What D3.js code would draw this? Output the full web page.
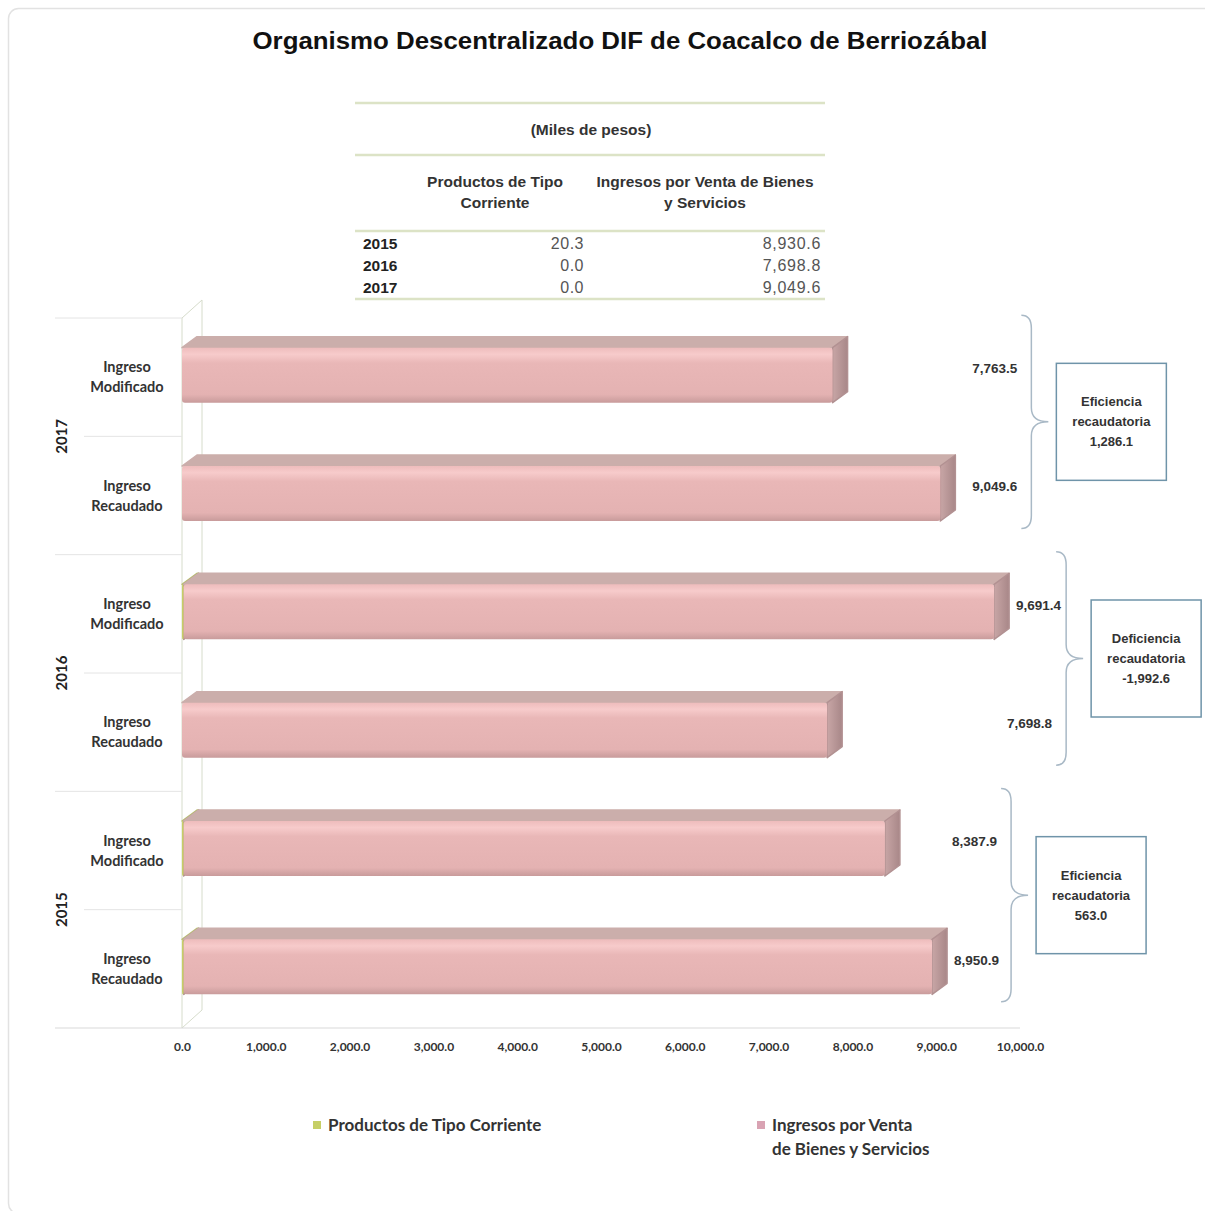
<!DOCTYPE html>
<html><head><meta charset="utf-8">
<script src="https://cdn.jsdelivr.net/npm/d3@7"></script>
<style>body{margin:0;background:#fff}svg{display:block}</style>
</head><body>
<script>
// ---------- DATA ----------
const title = "Organismo Descentralizado DIF de Coacalco de Berriozábal";
const years = ["2017", "2016", "2015"];
const concepts = ["Ingreso Modificado", "Ingreso Recaudado"];
// rows ordered top to bottom: 2017 Mod, 2017 Rec, 2016 Mod, 2016 Rec, 2015 Mod, 2015 Rec
const productosCorriente = [0.0, 0.0, 20.0, 0.0, 20.0, 20.3];
const ingresosVenta = [7763.5, 9049.6, 9671.4, 7698.8, 8367.9, 8930.6];
const xTicks = [0, 1000, 2000, 3000, 4000, 5000, 6000, 7000, 8000, 9000, 10000];
const seriesNames = ["Productos de Tipo Corriente", "Ingresos por Venta de Bienes y Servicios"];
const tableYears = ["2015", "2016", "2017"];
const tableProductos = [20.3, 0.0, 0.0];
const tableIngresos = [8930.6, 7698.8, 9049.6];
const tableHeaders = [["Productos de Tipo", "Corriente"], ["Ingresos por Venta de Bienes", "y Servicios"]];
const tableUnit = "(Miles de pesos)";

// ---------- LAYOUT ----------
const W = 1205, H = 1211;
const colors = {prod: "#c6cf66", ing: "#e6b3b3", ingTop: "#cbaeab", ingSide: "#b99798",
  prodTop: "#b9bf72", prodSide: "#a9ae5c", text: "#2b2b2b", grid: "#d9d9d9", brace: "#a9b9c6", box: "#6f94a9"};
const braceGap = {"2017": 76, "2016": 57, "2015": 64};
const dx = 15, dy = -11;
const SANS = "'Liberation Sans', Arial, sans-serif";
const NARROW = "'Liberation Sans Narrow', 'Liberation Sans', Arial, sans-serif";
const CAL = "Lato, sans-serif";

const locale = d3.formatLocale({decimal: ".", thousands: ",", grouping: [3], currency: ["$", ""], minus: "-"});
const fmt = locale.format(",.1f");

const svg = d3.select("body").append("svg").attr("width", W).attr("height", H);
const defs = svg.append("defs");
const g1 = defs.append("linearGradient").attr("id", "ingFront").attr("x1", 0).attr("x2", 0).attr("y1", 0).attr("y2", 1);
[[0, "#eebcbc"], [0.12, "#f7cbcb"], [0.28, "#e9b7b7"], [0.85, "#e4b2b2"], [1, "#c89b9b"]]
  .forEach(([o, c]) => g1.append("stop").attr("offset", o).attr("stop-color", c));
const g2 = defs.append("linearGradient").attr("id", "ingSide").attr("x1", 0).attr("x2", 1).attr("y1", 0).attr("y2", 0);
[[0, "#c8a6a6"], [1, "#a88788"]].forEach(([o, c]) => g2.append("stop").attr("offset", o).attr("stop-color", c));

// outer frame
svg.append("rect").attr("x", 8.5).attr("y", 8.5).attr("width", 1205).attr("height", 1205)
  .attr("rx", 10).attr("fill", "#fff").attr("stroke", "#e2e2e2").attr("stroke-width", 1.5);

// title
svg.append("text").attr("x", 620).attr("y", 49).attr("text-anchor", "middle")
  .attr("font-family", SANS).attr("font-weight", "bold")
  .attr("font-size", 24).attr("fill", "#111").attr("textLength", 735).attr("lengthAdjust", "spacingAndGlyphs")
  .text(title);

// ---------- TABLE ----------
const tbl = svg.append("g");
const tLine = "#dce3c6";
[103, 155, 231, 299].forEach(y => tbl.append("line").attr("x1", 355).attr("x2", 825).attr("y1", y).attr("y2", y)
  .attr("stroke", tLine).attr("stroke-width", 2.5));
tbl.append("text").attr("x", 591).attr("y", 135).attr("text-anchor", "middle")
  .attr("font-family", SANS).attr("font-weight", "bold").attr("font-size", 15.5)
  .attr("fill", "#333").text(tableUnit);
const hx = [495, 705];
tableHeaders.forEach((lines, i) => lines.forEach((t, j) =>
  tbl.append("text").attr("x", hx[i]).attr("y", 187 + j * 21).attr("text-anchor", "middle")
    .attr("font-family", SANS).attr("font-weight", "bold").attr("font-size", 15.5)
    .attr("fill", "#333").text(t)));
const tRow = d3.scaleBand(tableYears, [233, 299]);
tableYears.forEach((yr, i) => {
  const yy = tRow(yr) + tRow.bandwidth() / 2 + 5;
  tbl.append("text").attr("x", 363).attr("y", yy).attr("font-family", SANS)
    .attr("font-weight", "bold").attr("font-size", 15.5).attr("fill", "#222").text(yr);
  tbl.append("text").attr("x", 584).attr("y", yy).attr("text-anchor", "end")
    .attr("font-family", SANS).attr("font-size", 16).attr("letter-spacing", 0.5).attr("fill", "#555")
    .text(fmt(tableProductos[i]));
  tbl.append("text").attr("x", 821).attr("y", yy).attr("text-anchor", "end")
    .attr("font-family", SANS).attr("font-size", 16).attr("letter-spacing", 0.7).attr("fill", "#555")
    .text(fmt(tableIngresos[i]));
});

// ---------- CHART ----------
const rows = [];
years.forEach(y => concepts.forEach(c => rows.push({year: y, concept: c, key: y + "|" + c})));
rows.forEach((r, i) => { r.prod = productosCorriente[i]; r.ing = ingresosVenta[i]; r.total = r.prod + r.ing; });

const x = d3.scaleLinear([0, 10000], [182, 1020]);
const yRow = d3.scaleBand(rows.map(r => r.key), [318, 1028]);
const yGrp = d3.scaleBand(years, [318, 1028]);
const barH = 55;
const rc = k => yRow(k) + yRow.bandwidth() / 2;

// wall
const wall = svg.append("g").attr("fill", "none").attr("stroke", "#d6dccb").attr("stroke-width", 1);
wall.append("path").attr("d", `M${x(0)},${yGrp.range()[1]} L${x(0)},${yGrp.range()[0]} L${x(0) + 20},${yGrp.range()[0] - 18} L${x(0) + 20},${yGrp.range()[1] - 18} L${x(0)},${yGrp.range()[1]}`);

// category grid lines
years.forEach(y => {
  svg.append("line").attr("x1", 55).attr("x2", x(0)).attr("y1", yGrp(y)).attr("y2", yGrp(y)).attr("stroke", "#e4e4e4");
  const mid = yGrp(y) + yGrp.bandwidth() / 2;
  svg.append("line").attr("x1", 84).attr("x2", x(0)).attr("y1", mid).attr("y2", mid).attr("stroke", "#e4e4e4");
});
svg.append("line").attr("x1", 55).attr("x2", x(10000)).attr("y1", yGrp.range()[1]).attr("y2", yGrp.range()[1]).attr("stroke", colors.grid);

// x axis
const xAxis = svg.append("g").attr("transform", `translate(0,${yGrp.range()[1]})`)
  .call(d3.axisBottom(x).tickValues(xTicks).tickFormat(fmt).tickSize(0).tickPadding(14));
xAxis.select(".domain").remove();
xAxis.selectAll("text").attr("font-family", CAL).attr("font-weight", "bold")
  .attr("font-size", 12).attr("fill", "#333");

// y labels
rows.forEach(r => {
  const [a, b] = r.concept.split(" ");
  const t = svg.append("text").attr("x", 127).attr("text-anchor", "middle").attr("font-family", CAL)
    .attr("font-weight", "bold").attr("font-size", 14.5).attr("fill", "#333");
  t.append("tspan").attr("x", 127).attr("y", rc(r.key) - 5).text(a);
  t.append("tspan").attr("x", 127).attr("y", rc(r.key) + 15).text(b);
});
years.forEach(y => {
  const cy = yGrp(y) + yGrp.bandwidth() / 2;
  svg.append("text").attr("transform", `translate(67,${cy}) rotate(-90)`).attr("text-anchor", "middle")
    .attr("font-family", CAL).attr("font-weight", "bold").attr("font-size", 15).attr("fill", "#222").text(y);
});

// 3D bars
function box3d(g, x0, x1, yTop, h, front, top, side) {
  if (x1 - x0 <= 0) return;
  g.append("polygon").attr("points", [[x0, yTop], [x0 + dx, yTop + dy], [x1 + dx, yTop + dy], [x1, yTop]].join(" "))
    .attr("fill", top).attr("stroke", top).attr("stroke-linejoin", "round").attr("stroke-width", 1.5);
  g.append("polygon").attr("points", [[x1, yTop], [x1 + dx, yTop + dy], [x1 + dx, yTop + h + dy], [x1, yTop + h]].join(" "))
    .attr("fill", side).attr("stroke", "#b29192").attr("stroke-linejoin", "round").attr("stroke-width", 1.5);
  g.append("rect").attr("x", x0).attr("y", yTop).attr("width", x1 - x0).attr("height", h).attr("rx", 3)
    .attr("fill", front);
}
const bars = svg.append("g");
rows.forEach(r => {
  const yTop = rc(r.key) - 2 - barH / 2;
  const g = bars.append("g");
  box3d(g, x(0), x(r.prod), yTop, barH, colors.prod, colors.prodTop, colors.prodSide);
  box3d(g, x(r.prod), x(r.total), yTop, barH, "url(#ingFront)", colors.ingTop, "url(#ingSide)");
});

// braces, value labels and boxes
years.forEach(y => {
  const gr = rows.filter(r => r.year === y);
  const bx = x(d3.max(gr, r => r.total)) + dx + braceGap[y];
  const y0 = rc(gr[0].key) - 62, y1 = rc(gr[1].key) + 33, m = (y0 + y1) / 2, w = 17;
  svg.append("path").attr("d", `M${bx - 10},${y0} Q${bx},${y0} ${bx},${y0 + 13} L${bx},${m - 14} Q${bx},${m} ${bx + w},${m} Q${bx},${m} ${bx},${m + 14} L${bx},${y1 - 13} Q${bx},${y1} ${bx - 10},${y1}`)
    .attr("fill", "none").attr("stroke", colors.brace).attr("stroke-width", 1.5);
  gr.forEach(r => svg.append("text").attr("x", Math.max(bx - 14, x(r.total) + dx + 52)).attr("y", rc(r.key) - 9).attr("dy", "0.35em")
    .attr("text-anchor", "end").attr("font-family", NARROW)
    .attr("font-weight", "bold").attr("font-size", 13.5).attr("fill", "#333").text(fmt(r.total)));
  const diff = gr[1].total - gr[0].total;
  const bxl = bx + 25;
  svg.append("rect").attr("x", bxl).attr("y", m - 58.5).attr("width", 110).attr("height", 117)
    .attr("fill", "#fff").attr("stroke", colors.box).attr("stroke-width", 1.5);
  const lines = [diff >= 0 ? "Eficiencia" : "Deficiencia", "recaudatoria", fmt(diff)];
  lines.forEach((t, i) => svg.append("text").attr("x", bxl + 55).attr("y", m - 20 + i * 20).attr("dy", "0.35em")
    .attr("text-anchor", "middle").attr("font-family", NARROW)
    .attr("font-weight", "bold").attr("font-size", 13).attr("fill", "#333").text(t));
});

// legend
const leg = [{x: 313, c: colors.prod, lines: [seriesNames[0]]},
             {x: 757, c: "#d9a3b3", lines: ["Ingresos por Venta", "de Bienes y Servicios"]}];
leg.forEach(l => {
  svg.append("rect").attr("x", l.x).attr("y", 1121).attr("width", 8).attr("height", 8).attr("fill", l.c);
  l.lines.forEach((t, j) => svg.append("text").attr("x", l.x + 15).attr("y", 1131 + j * 24)
    .attr("font-family", CAL).attr("font-weight", "bold").attr("font-size", 17)
    .attr("fill", "#333").text(t));
});
</script>
</body></html>
